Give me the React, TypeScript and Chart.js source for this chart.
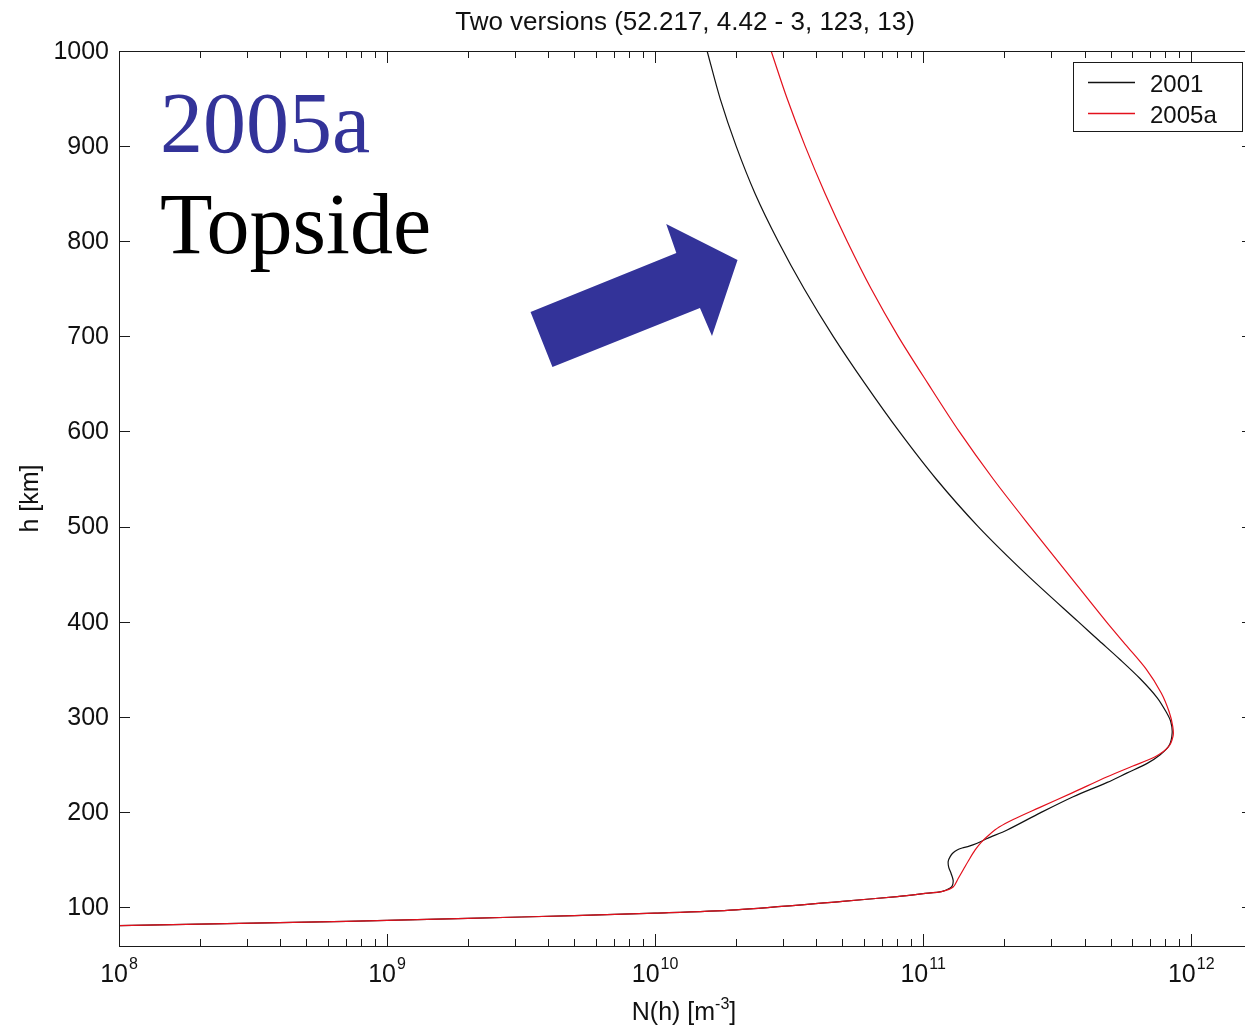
import React, { useEffect, useRef } from "react";
import { Chart, registerables } from "chart.js";

Chart.register(...registerables);

// ---- Data: electron density profile N(h) [m^-3] vs height h [km] ----
// common bottomside tail (both versions)
const hTail = [80.5, 82, 84, 86, 88, 91, 93.5, 97, 106, 111, 114, 116.5];
const nTail = [1e8, 2e8, 5e8, 1e9, 2e9, 5e9, 1e10, 2e10, 5e10, 8e10, 1e11, 1.18e11];

const h2001Upper = [
  120, 122, 128, 135, 142, 148, 153, 157, 160, 162, 164, 167, 172, 181, 199, 216, 231, 241, 251, 260,
  270, 283, 295, 305, 320, 340, 360, 380, 400, 450, 500, 550, 600, 650, 700, 750, 800, 850, 900, 950, 1000,
];
const n2001Upper = [
  1.261e11, 1.283e11, 1.294e11, 1.272e11, 1.245e11, 1.24e11, 1.261e11, 1.294e11, 1.339e11, 1.398e11, 1.485e11, 1.59e11, 1.733e11, 2.058e11, 2.733e11, 3.628e11, 4.86e11, 5.77e11, 6.851e11, 7.661e11,
  8.277e11, 8.49e11, 8.385e11, 8.067e11, 7.467e11, 6.452e11, 5.435e11, 4.536e11, 3.788e11, 2.423e11, 1.604e11, 1.118e11, 8.137e10, 6.075e10, 4.616e10, 3.597e10, 2.877e10, 2.361e10, 2.006e10, 1.748e10, 1.563e10,
];

const h2005aUpper = [
  121, 130, 140, 150, 160, 168, 176, 184, 192, 204, 220, 237, 248, 258, 268, 280, 290, 305, 325, 350,
  375, 400, 450, 500, 550, 600, 650, 700, 750, 800, 850, 900, 950, 1000,
];
const n2005aUpper = [
  1.294e11, 1.351e11, 1.416e11, 1.485e11, 1.563e11, 1.646e11, 1.764e11, 1.921e11, 2.167e11, 2.686e11, 3.597e11, 4.86e11, 6.026e11, 7.34e11, 8.207e11, 8.56e11, 8.531e11, 8.277e11, 7.73e11, 6.792e11,
  5.722e11, 4.818e11, 3.475e11, 2.508e11, 1.825e11, 1.362e11, 1.044e11, 8.067e10, 6.397e10, 5.205e10, 4.309e10, 3.628e10, 3.108e10, 2.709e10,
];

const seriesLabels = ["2001", "2005a"];
const seriesColors = ["#111111", "#e3101c"];

const xTickExponents = [8, 9, 10, 11, 12];
const yTickValues = [100, 200, 300, 400, 500, 600, 700, 800, 900, 1000];

const titleText = "Two versions (52.217, 4.42 - 3, 123, 13)";
const yTitle = "h [km]";
const xTitleBase = "N(h) [m";
const xTitleExp = "-3";
const xTitleEnd = "]";

// arrow annotation (data coordinates: N, h)
const arrowN = [3.43e9, 1.2e10, 1.1e10, 2.03e10, 1.63e10, 1.47e10, 4.14e9];
const arrowH = [725.6, 787.6, 818.1, 780.2, 700.3, 729.8, 667.7];

const SANS = "'Liberation Sans', Arial, Helvetica, sans-serif";
const SERIF = "'Liberation Serif', 'Times New Roman', serif";

const decorPlugin = {
  id: "decor",
  afterDraw(chart: any) {
    const ctx: CanvasRenderingContext2D = chart.ctx;
    const { left, right, top, bottom } = chart.chartArea;
    const xs = chart.scales.x;
    const ys = chart.scales.y;
    ctx.save();

    // frame
    ctx.strokeStyle = "#1a1a1a";
    ctx.lineWidth = 1;
    ctx.strokeRect(Math.round(left) + 0.5, Math.round(top) + 0.5, Math.round(right - left), Math.round(bottom - top));

    // y ticks (inward, both sides)
    ctx.beginPath();
    for (const v of yTickValues) {
      const py = Math.round(ys.getPixelForValue(v)) + 0.5;
      ctx.moveTo(left, py);
      ctx.lineTo(left + 11, py);
      ctx.moveTo(right, py);
      ctx.lineTo(right - 11, py);
    }
    // x ticks (major + minor, top and bottom)
    for (const e of xTickExponents) {
      for (let m = 1; m <= 9; m++) {
        const v = m * Math.pow(10, e);
        if (v > xs.max) break;
        const px = Math.round(xs.getPixelForValue(v)) + 0.5;
        const len = m === 1 ? 12 : 7;
        ctx.moveTo(px, bottom);
        ctx.lineTo(px, bottom - len);
        ctx.moveTo(px, top);
        ctx.lineTo(px, top + len);
      }
    }
    ctx.stroke();

    // y tick labels
    ctx.fillStyle = "#111";
    ctx.font = `25px ${SANS}`;
    ctx.textAlign = "right";
    ctx.textBaseline = "middle";
    for (const v of yTickValues) {
      ctx.fillText(String(v), left - 10, ys.getPixelForValue(v) + 1);
    }

    // x tick labels 10^e
    ctx.textAlign = "left";
    ctx.textBaseline = "alphabetic";
    for (const e of xTickExponents) {
      const px = xs.getPixelForValue(Math.pow(10, e));
      ctx.font = `25px ${SANS}`;
      const wb = ctx.measureText("10").width;
      ctx.font = `16px ${SANS}`;
      const we = ctx.measureText(String(e)).width;
      const x0 = px - (wb + we + 1) / 2;
      ctx.font = `25px ${SANS}`;
      ctx.fillText("10", x0, 982);
      ctx.font = `16px ${SANS}`;
      ctx.fillText(String(e), x0 + wb + 1, 969);
    }

    // x title with superscript
    {
      ctx.font = `25px ${SANS}`;
      const w1 = ctx.measureText(xTitleBase).width;
      const w3 = ctx.measureText(xTitleEnd).width;
      ctx.font = `16px ${SANS}`;
      const w2 = ctx.measureText(xTitleExp).width;
      const cx = (left + right) / 2 - 2;
      const x0 = cx - (w1 + w2 + w3) / 2;
      ctx.font = `25px ${SANS}`;
      ctx.fillText(xTitleBase, x0, 1020);
      ctx.fillText(xTitleEnd, x0 + w1 + w2, 1020);
      ctx.font = `16px ${SANS}`;
      ctx.fillText(xTitleExp, x0 + w1, 1009);
    }

    // y title (rotated)
    ctx.save();
    ctx.translate(38, (top + bottom) / 2);
    ctx.rotate(-Math.PI / 2);
    ctx.font = `25px ${SANS}`;
    ctx.textAlign = "center";
    ctx.textBaseline = "alphabetic";
    ctx.fillText(yTitle, 0, 0);
    ctx.restore();

    // title
    ctx.font = `26px ${SANS}`;
    ctx.textAlign = "center";
    ctx.fillText(titleText, 685, 30);

    // legend
    ctx.strokeStyle = "#1a1a1a";
    ctx.lineWidth = 1;
    ctx.fillStyle = "#fff";
    ctx.fillRect(1073.5, 62.5, 169, 69);
    ctx.strokeRect(1073.5, 62.5, 169, 69);
    ctx.textAlign = "left";
    ctx.font = `24px ${SANS}`;
    const legY = [82.5, 113.5];
    chart.data.datasets.forEach((ds: any, i: number) => {
      ctx.strokeStyle = seriesColors[i];
      ctx.lineWidth = 1.3;
      ctx.beginPath();
      ctx.moveTo(1088, legY[i]);
      ctx.lineTo(1135, legY[i]);
      ctx.stroke();
      ctx.fillStyle = "#111";
      ctx.fillText(ds.label, 1150, legY[i] + 9.5);
    });

    // annotation texts
    ctx.font = `86px ${SERIF}`;
    ctx.fillStyle = "#333399";
    ctx.fillText("2005a", left + 41, 152);
    ctx.fillStyle = "#000";
    ctx.fillText("Topside", left + 41, 253);

    // arrow
    ctx.fillStyle = "#333399";
    ctx.beginPath();
    arrowN.forEach((n, i) => {
      const px = xs.getPixelForValue(n);
      const py = ys.getPixelForValue(arrowH[i]);
      if (i === 0) ctx.moveTo(px, py);
      else ctx.lineTo(px, py);
    });
    ctx.closePath();
    ctx.fill();

    ctx.restore();
  },
};

export default function App() {
  const ref = useRef<HTMLCanvasElement>(null);
  useEffect(() => {
    const canvas = ref.current!;
    const h2001 = [...hTail, ...h2001Upper];
    const n2001 = [...nTail, ...n2001Upper];
    const h2005a = [...hTail, ...h2005aUpper];
    const n2005a = [...nTail, ...n2005aUpper];
    const chart = new Chart(canvas, {
      type: "scatter",
      data: {
        datasets: [
          {
            label: seriesLabels[0],
            data: h2001.map((h, i) => ({ x: n2001[i], y: h })),
            borderColor: seriesColors[0],
            backgroundColor: seriesColors[0],
            borderWidth: 1.2,
            showLine: true,
            pointRadius: 0,
            tension: 0.3,
            fill: false,
            order: 1,
          },
          {
            label: seriesLabels[1],
            data: h2005a.map((h, i) => ({ x: n2005a[i], y: h })),
            borderColor: seriesColors[1],
            backgroundColor: seriesColors[1],
            borderWidth: 1.2,
            showLine: true,
            pointRadius: 0,
            tension: 0.3,
            fill: false,
            order: 0,
          },
        ],
      },
      options: {
        responsive: false,
        maintainAspectRatio: false,
        animation: false,
        events: [],
        layout: { padding: { left: 119, top: 51, right: 17, bottom: 82 } },
        scales: {
          x: { type: "logarithmic", min: 1e8, max: 1.7e12, display: false },
          y: { type: "linear", min: 59, max: 1000, display: false },
        },
        plugins: {
          legend: { display: false },
          title: { display: false },
          tooltip: { enabled: false },
        },
      },
      plugins: [decorPlugin],
    } as any);
    return () => chart.destroy();
  }, []);

  return (
    <div
      style={{
        position: "absolute",
        left: 0,
        top: 0,
        width: 1245,
        height: 1028,
        overflow: "hidden",
        background: "#fff",
      }}
    >
      <canvas ref={ref} width={1270} height={1028} style={{ width: 1270, height: 1028, display: "block" }} />
    </div>
  );
}
